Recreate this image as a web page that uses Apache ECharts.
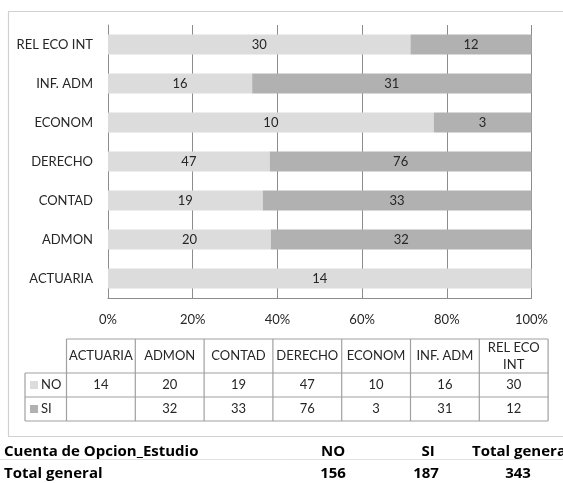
<!DOCTYPE html>
<html>
<head>
<meta charset="utf-8">
<script src="https://cdn.jsdelivr.net/npm/echarts@6/dist/echarts.min.js"></script>
<style>
  html, body { margin: 0; padding: 0; background: #ffffff; }
  #chart { width: 563px; height: 483px; }
</style>
</head>
<body>
<div id="chart"></div>
<script>
const categories = ["ACTUARIA", "ADMON", "CONTAD", "DERECHO", "ECONOM", "INF. ADM", "REL ECO INT"];
const noValues = [14, 20, 19, 47, 10, 16, 30];
const siValues = [null, 32, 33, 76, 3, 31, 12];
const seriesNames = ["NO", "SI"];
const seriesColors = ["#dcdcdc", "#b1b1b1"];
const pivotTitle = "Cuenta de Opcion_Estudio";
const totalLabel = "Total general";

const font = "Lato, 'Noto Sans', sans-serif";
const boldFont = "'Open Sans', Lato, sans-serif";
const textColor = "#262626";
const gridColor = "#8c8c8c";
const tableColor = "#a0a0a0";

// share of each bar in percent, the label keeps the raw count
function pctData(vals, other) {
  return vals.map((v, i) => {
    if (v == null) return null;
    const tot = (v || 0) + (other[i] || 0);
    return { value: (v / tot) * 100, raw: v };
  });
}

const noTotal = noValues.reduce((a, b) => a + (b || 0), 0);
const siTotal = siValues.reduce((a, b) => a + (b || 0), 0);

// data table below the chart
const tableLeft = 25, colStart = 66.5, colW = 68.8;
const rowTop = 339, headBottom = 373, rowH = 24;
const tableRight = colStart + colW * categories.length;
const graphic = [];

graphic.push({
  type: "rect",
  shape: { x: 8.5, y: 11.5, width: 600, height: 425 },
  style: { fill: null, stroke: "#d0d0d0", lineWidth: 1.2 },
});
graphic.push({
  type: "line",
  shape: { x1: 0, y1: 459.5, x2: 563, y2: 459.5 },
  style: { stroke: "#e2e2e2", lineWidth: 1 },
});

function hLine(y, x1, x2) {
  graphic.push({ type: "line", shape: { x1: x1, y1: y, x2: x2, y2: y }, style: { stroke: tableColor, lineWidth: 1.2 } });
}
function vLine(x, y1, y2) {
  graphic.push({ type: "line", shape: { x1: x, y1: y1, x2: x, y2: y2 }, style: { stroke: tableColor, lineWidth: 1.2 } });
}
function txt(s, x, y, align, opts) {
  graphic.push({
    type: "text",
    x: x,
    y: y,
    style: Object.assign({
      text: s,
      align: align,
      verticalAlign: "middle",
      font: "13px " + font,
      fill: textColor,
    }, opts || {}),
  });
}

hLine(rowTop, colStart, tableRight);
hLine(headBottom, tableLeft, tableRight);
hLine(headBottom + rowH, tableLeft, tableRight);
hLine(headBottom + rowH * 2, tableLeft, tableRight);
vLine(tableLeft, headBottom, headBottom + rowH * 2);
for (let i = 0; i <= categories.length; i++) {
  vLine(colStart + colW * i, rowTop, headBottom + rowH * 2);
}
categories.forEach((c, i) => {
  const cx = colStart + colW * (i + 0.5);
  // long multi-word headers wrap before the last word
  const head = c.length > 9 && c.indexOf(" ") > 0 ? c.replace(/ (\S+)$/, "\n$1") : c;
  txt(head, cx, (rowTop + headBottom) / 2, "center", { lineHeight: 17 });
  if (noValues[i] != null) txt(String(noValues[i]), cx, headBottom + rowH * 0.5, "center");
  if (siValues[i] != null) txt(String(siValues[i]), cx, headBottom + rowH * 1.5, "center");
});
seriesNames.forEach((n, k) => {
  const cy = headBottom + rowH * (k + 0.5);
  graphic.push({ type: "rect", shape: { x: 30, y: cy - 4, width: 8, height: 8 }, style: { fill: seriesColors[k] } });
  txt(n, 41, cy, "left");
});

// pivot summary under the chart
const bold = { font: "bold 15px " + boldFont, fill: "#000000" };
txt(pivotTitle, 4, 452, "left", bold);
txt(seriesNames[0], 333, 452, "center", bold);
txt(seriesNames[1], 428, 452, "center", bold);
txt(totalLabel, 472, 452, "left", bold);
txt(totalLabel, 4, 473.5, "left", bold);
txt(String(noTotal), 333, 473.5, "center", bold);
txt(String(siTotal), 426, 473.5, "center", bold);
txt(String(noTotal + siTotal), 518, 473.5, "center", bold);

const barLabel = {
  show: true,
  position: "inside",
  color: textColor,
  fontFamily: font,
  fontSize: 13,
  formatter: (p) => (p.data && p.data.raw != null ? p.data.raw : ""),
};

const option = {
  animation: false,
  backgroundColor: "#ffffff",
  grid: { left: 108, top: 25, width: 423.5, height: 273 },
  xAxis: {
    type: "value",
    min: 0,
    max: 100,
    interval: 20,
    axisLabel: {
      formatter: "{value}%",
      color: textColor,
      fontFamily: font,
      fontSize: 13,
      margin: 15,
    },
    axisLine: { show: true, lineStyle: { color: gridColor } },
    axisTick: { show: false },
    splitLine: { show: true, lineStyle: { color: gridColor } },
  },
  yAxis: {
    type: "category",
    data: categories,
    axisLabel: {
      color: textColor,
      fontFamily: font,
      fontSize: 13,
      margin: 15,
    },
    axisLine: { show: true, lineStyle: { color: gridColor } },
    axisTick: { show: false },
  },
  series: [
    {
      name: seriesNames[0],
      type: "bar",
      stack: "total",
      barWidth: 20,
      data: pctData(noValues, siValues),
      itemStyle: { color: seriesColors[0] },
      label: barLabel,
    },
    {
      name: seriesNames[1],
      type: "bar",
      stack: "total",
      barWidth: 20,
      data: pctData(siValues, noValues),
      itemStyle: { color: seriesColors[1] },
      label: barLabel,
    },
  ],
  graphic: graphic,
};

const myChart = echarts.init(document.getElementById("chart"));
myChart.setOption(option);
</script>
</body>
</html>
